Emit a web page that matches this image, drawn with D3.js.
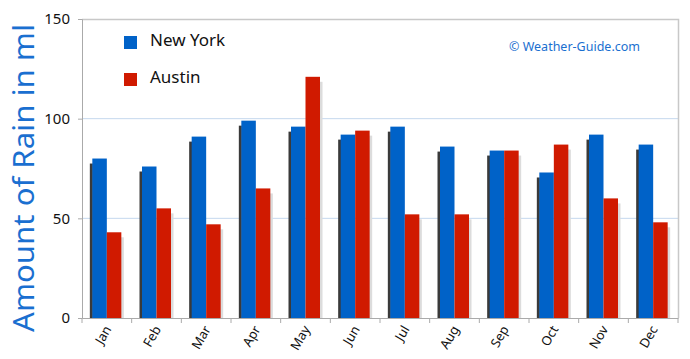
<!DOCTYPE html>
<html><head><meta charset="utf-8">
<script src="https://cdn.jsdelivr.net/npm/d3@7"></script>
<style>body{margin:0;background:#fff;} svg{display:block;}</style>
</head><body>
<script>
const months = ["Jan","Feb","Mar","Apr","May","Jun","Jul","Aug","Sep","Oct","Nov","Dec"];
const newYork = [80,76,91,99,96,92,96,86,84,73,92,87];
const austin  = [43,55,47,65,121,94,52,52,84,87,60,48];
const seriesNames = ["New York","Austin"];
const yTicks = [0,50,100,150];

const W=690,H=359;
const m={l:82,r:12,t:19,b:41};
const colors=["#0062c8","#d01a00"];
const font="'Comic Sans MS','Noto Sans',Lato,sans-serif";

const svg=d3.select("body").append("svg").attr("width",W).attr("height",H);
const x=d3.scaleBand().domain(months).range([m.l,W-m.r]).paddingInner(0).paddingOuter(0);
const y=d3.scaleLinear().domain([0,150]).range([H-m.b,m.t]);

// grid lines
svg.append("g").selectAll("line").data([50,100]).join("line")
  .attr("x1",m.l).attr("x2",W-m.r).attr("y1",d=>y(d)).attr("y2",d=>y(d))
  .attr("stroke","#c5d8ee").attr("stroke-width",1);
// border top & right
svg.append("path").attr("d",`M${m.l},${y(150)+0.5}H${W-m.r+0.5}V${y(0)}`)
  .attr("fill","none").attr("stroke","#c8c8c8").attr("stroke-width",1.5);

const bw=14.5;
const data=months.map((mo,i)=>({mo,v:[newYork[i],austin[i]]}));
const g=svg.append("g");
data.forEach(d=>{
  const cx=x(d.mo)+x.bandwidth()/2;
  // shadows
  g.append("rect").attr("x",cx-bw-2.5).attr("y",y(d.v[0])+5).attr("width",3)
    .attr("height",y(0)-y(d.v[0])-5).attr("fill","#3a3a3a");
  g.append("rect").attr("x",cx+bw-1).attr("y",y(d.v[1])+5).attr("width",3.5)
    .attr("height",y(0)-y(d.v[1])-5).attr("fill","#dcdcdc");
  d.v.forEach((v,k)=>{
    g.append("rect").attr("x",k===0?cx-bw:cx).attr("y",y(v)).attr("width",bw)
      .attr("height",y(0)-y(v)).attr("fill",colors[k]);
  });
});

// y axis
const ya=svg.append("g").attr("transform",`translate(${m.l},0)`)
  .call(d3.axisLeft(y).tickValues(yTicks).tickSize(4).tickPadding(8));
ya.select(".domain").attr("stroke","#aaa");
ya.selectAll(".tick line").attr("stroke","#aaa");
ya.selectAll("text").attr("font-family",font).attr("font-size",15).attr("fill","#111");

// x axis
const xa=svg.append("g").attr("transform",`translate(0,${y(0)})`)
  .call(d3.axisBottom(x).tickSize(0).tickPadding(0));
xa.select(".domain").attr("stroke","#aaa");
xa.selectAll(".tick text").attr("font-family",font).attr("font-size",13).attr("fill","#111")
  .attr("text-anchor","end").attr("dy",0)
  .attr("transform","translate(5,11) rotate(-60)");
svg.append("g").selectAll("line").data(d3.range(13)).join("line")
  .attr("x1",i=>m.l+i*x.bandwidth()).attr("x2",i=>m.l+i*x.bandwidth())
  .attr("y1",y(0)).attr("y2",y(0)+5).attr("stroke","#aaa");

// y title
svg.append("text").attr("transform",`translate(34,178) rotate(-90)`)
  .attr("text-anchor","middle").attr("font-family",font).attr("font-size",29)
  .attr("textLength",308).attr("lengthAdjust","spacingAndGlyphs")
  .attr("fill","#1a6fd0").text("Amount of Rain in ml");

// legend
const lg=svg.append("g");
seriesNames.forEach((n,i)=>{
  lg.append("rect").attr("x",124).attr("y",36+i*37).attr("width",13).attr("height",13).attr("fill",colors[i]);
  lg.append("text").attr("x",150).attr("y",46+i*37).attr("font-family",font).attr("font-size",17)
    .attr("fill","#111").text(n);
});

// copyright
svg.append("text").attr("x",640).attr("y",51).attr("text-anchor","end")
  .attr("font-family",font).attr("font-size",12.5).attr("fill","#1a6fd0").text("© Weather-Guide.com");
</script>
</body></html>
